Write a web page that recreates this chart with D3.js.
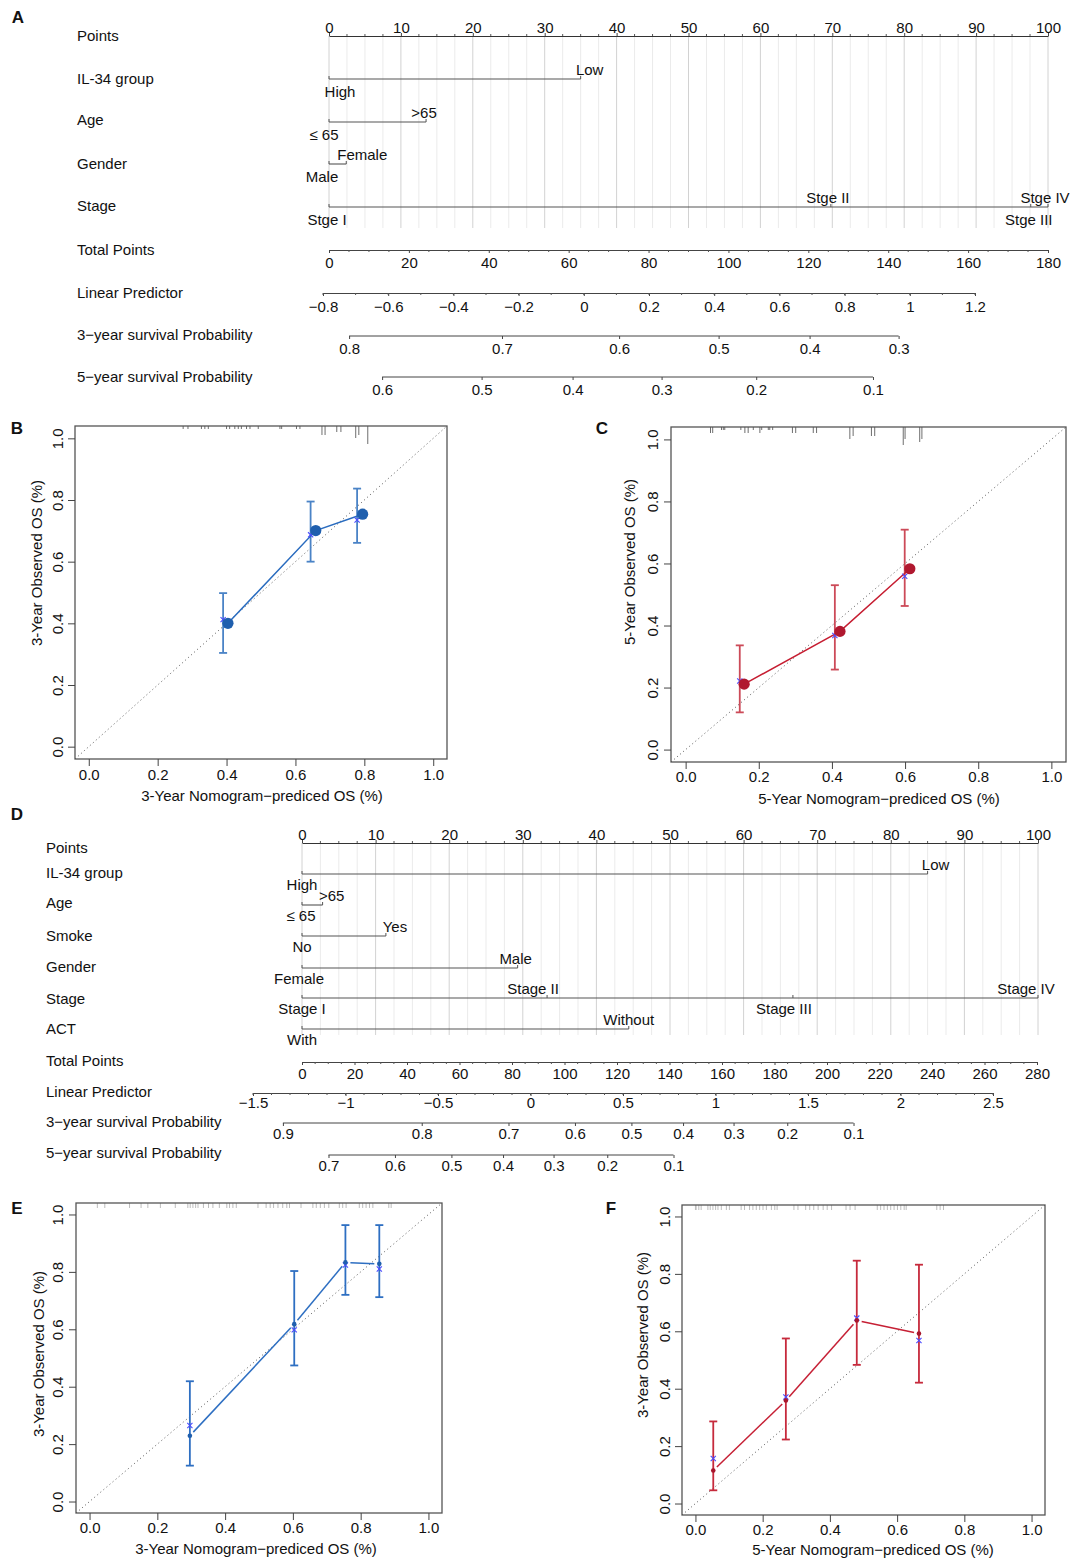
<!DOCTYPE html>
<html><head><meta charset="utf-8">
<script src="https://cdn.jsdelivr.net/npm/d3@7"></script>
<style>
body{margin:0;background:#fff}
svg{display:block}
</style>
</head><body>
<svg id="fig" width="1072" height="1560"></svg>
<script>
// ===================== DATA =====================
// ---- Panel A nomogram ----
const A_pointsTicks = [0,10,20,30,40,50,60,70,80,90,100];
const A_il34Levels = ["High","Low"];          const A_il34Points = [0,35];
const A_ageLevels = ["\u2264 65",">65"];       const A_agePoints = [0,13.5];
const A_genderLevels = ["Male","Female"];      const A_genderPoints = [0,2.4];
const A_stageLevels = ["Stge I","Stge II","Stge III","Stge IV"]; const A_stagePoints = [0,69.8,97.6,100];
const A_totalTicks = [0,20,40,60,80,100,120,140,160,180];
const A_lpTicks = [-0.8,-0.6,-0.4,-0.2,0,0.2,0.4,0.6,0.8,1,1.2];
const A_surv3Ticks = [0.8,0.7,0.6,0.5,0.4,0.3];
const A_surv5Ticks = [0.6,0.5,0.4,0.3,0.2,0.1];
const A_lnCumHaz3 = -0.780;   // log baseline cumulative hazard, 3-year
const A_lnCumHaz5 = -0.053;   // log baseline cumulative hazard, 5-year

// ---- Panel D nomogram ----
const D_pointsTicks = [0,10,20,30,40,50,60,70,80,90,100];
const D_il34Levels = ["High","Low"];            const D_il34Points = [0,85];
const D_ageLevels = ["\u2264 65",">65"];         const D_agePoints = [0,2.8];
const D_smokeLevels = ["No","Yes"];              const D_smokePoints = [0,11.4];
const D_genderLevels = ["Female","Male"];        const D_genderPoints = [0,29.3];
const D_stageLevels = ["Stage I","Stage II","Stage III","Stage IV"]; const D_stagePoints = [0,33.3,66.7,100];
const D_actLevels = ["With","Without"];          const D_actPoints = [0,44.4];
const D_totalTicks = [0,20,40,60,80,100,120,140,160,180,200,220,240,260,280];
const D_lpTicks = [-1.5,-1,-0.5,0,0.5,1,1.5,2,2.5];
const D_surv3Ticks = [0.9,0.8,0.7,0.6,0.5,0.4,0.3,0.2,0.1];
const D_surv5Ticks = [0.7,0.6,0.5,0.4,0.3,0.2,0.1];
const D_lnCumHaz3 = -0.912;
const D_lnCumHaz5 = 0.061;

// ---- Calibration ticks ----
const calTicks = [0,0.2,0.4,0.6,0.8,1.0];

// ---- Panel B (3-year, model 1) ----
const B_pred  = [0.404,0.659,0.795];
const B_obs   = [0.400,0.701,0.754];
const B_barX  = [0.390,0.644,0.779];
const B_lower = [0.304,0.600,0.661];
const B_upper = [0.498,0.795,0.837];
const B_corr  = [0.412,0.687,0.735];
const B_rugValues = [0.274,0.288,0.327,0.337,0.347,0.400,0.409,0.424,0.434,0.443,0.458,0.468,0.492,0.555,0.560,0.603,0.613,0.677,0.686,0.720,0.732,0.775,0.784,0.810];
const B_rugCounts = [1,1,1,1,1,1,1,1,1,1,1,1,1,1,1,1,1,3,3,2,2,4,3,6];

// ---- Panel C (5-year, model 1) ----
const C_pred  = [0.160,0.422,0.613];
const C_obs   = [0.211,0.381,0.583];
const C_barX  = [0.148,0.408,0.599];
const C_lower = [0.120,0.258,0.463];
const C_upper = [0.336,0.530,0.709];
const C_corr  = [0.221,0.368,0.559];
const C_rugValues = [0.068,0.074,0.098,0.103,0.107,0.151,0.162,0.171,0.185,0.203,0.208,0.226,0.230,0.238,0.292,0.301,0.349,0.358,0.449,0.458,0.508,0.517,0.595,0.600,0.640,0.646];
const C_rugCounts = [2,2,1,1,1,1,2,2,1,2,1,1,1,1,2,2,2,2,4,3,3,3,6,4,5,4];

// ---- Panel E (3-year, model 2) ----
const E_pred  = [0.296,0.604,0.755,0.855];
const E_obs   = [0.229,0.618,0.833,0.828];
const E_lower = [0.125,0.474,0.720,0.712];
const E_upper = [0.419,0.803,0.963,0.963];
const E_corr  = [0.265,0.598,0.824,0.810];
const E_rugValues = [0.023,0.045,0.118,0.152,0.172,0.209,0.253,0.290,0.297,0.305,0.313,0.320,0.336,0.351,0.364,0.383,0.405,0.413,0.423,0.433,0.497,0.521,0.533,0.543,0.556,0.570,0.582,0.590,0.624,0.659,0.669,0.681,0.693,0.706,0.737,0.747,0.757,0.796,0.806,0.816,0.826,0.836,0.883,0.890];

// ---- Panel F (5-year, model 2) ----
const F_pred  = [0.053,0.269,0.480,0.665];
const F_obs   = [0.115,0.359,0.638,0.592];
const F_lower = [0.046,0.223,0.483,0.421];
const F_upper = [0.286,0.575,0.846,0.832];
const F_corr  = [0.157,0.371,0.646,0.568];
const F_rugValues = [0.000,0.002,0.010,0.017,0.037,0.044,0.052,0.060,0.067,0.077,0.092,0.101,0.136,0.146,0.161,0.171,0.181,0.191,0.201,0.211,0.226,0.236,0.243,0.293,0.305,0.328,0.340,0.352,0.365,0.380,0.392,0.405,0.448,0.460,0.475,0.541,0.551,0.561,0.571,0.581,0.591,0.601,0.611,0.621,0.627,0.718,0.728,0.738];

// ===================== DRAWING =====================
const FONT = '"Liberation Sans", Arial, Helvetica, sans-serif';
const svg = d3.select("#fig");
svg.append("rect").attr("width",1072).attr("height",1560).attr("fill","#fff");

const fmtNum = v => (v < 0 ? "\u2212" : "") + String(Math.abs(v));

function text(g, x, y, s, opts = {}) {
  const t = g.append("text").attr("x", x).attr("y", y)
    .attr("font-family", FONT).attr("font-size", opts.size || 15)
    .attr("fill", opts.fill || "#111")
    .attr("text-anchor", opts.anchor || "start")
    .attr("dominant-baseline", "central")
    .text(s);
  if (opts.bold) t.attr("font-weight", "bold");
  if (opts.rotate) t.attr("transform", `rotate(${opts.rotate},${x},${y})`);
  return t;
}

function styleAxis(ax, labelDy) {
  ax.attr("font-family", FONT).attr("font-size", 15).attr("color", "#333");
  ax.selectAll(".tick text").attr("y", labelDy).attr("dy", null)
    .attr("dominant-baseline", "central").attr("fill", "#111");
  ax.selectAll(".tick line").attr("stroke", "#444");
}

function nomogram(L) {
  const g = svg.append("g");
  const ps = d3.scaleLinear().domain([0, 100]).range(L.pointsRange);
  // grid lines
  const gridVals = d3.range(0, 100.0001, 2.5);
  g.selectAll("line.grid").data(gridVals).join("line")
    .attr("x1", d => ps(d)).attr("x2", d => ps(d))
    .attr("y1", L.gridY0).attr("y2", L.gridY1)
    .attr("stroke", d => (d % 10 === 0 ? "#d2d2d2" : "#ebebeb")).attr("stroke-width", 1);

  // Points axis
  text(g, L.labelX, L.pointsRowY, "Points");
  const pa = g.append("g").attr("transform", `translate(0,${L.pointsY})`)
    .call(d3.axisTop(ps).tickValues(L.pointsTicks).tickSize(3).tickSizeOuter(0).tickFormat(fmtNum));
  styleAxis(pa, L.pointsLabelY - L.pointsY);
  pa.select(".domain").attr("stroke", "#333");
  g.selectAll("line.pminor").data(gridVals.filter(d => d % 10 !== 0)).join("line")
    .attr("x1", d => ps(d)).attr("x2", d => ps(d))
    .attr("y1", L.pointsY).attr("y2", L.pointsY - 2).attr("stroke", "#555");

  // variables
  L.vars.forEach(v => {
    text(g, L.labelX, v.rowY, v.name);
    const maxP = d3.max(v.points);
    g.append("line").attr("x1", ps(0)).attr("x2", ps(maxP))
      .attr("y1", v.y).attr("y2", v.y).attr("stroke", "#555").attr("stroke-width", 1.1);
    g.selectAll(null).data(v.points).join("line")
      .attr("x1", d => ps(d)).attr("x2", d => ps(d))
      .attr("y1", v.y).attr("y2", v.y - 3).attr("stroke", "#555");
    v.levels.forEach((lev, i) => {
      const above = i % 2 === 1;
      text(g, ps(v.points[i]) + (v.nudge[i] || 0), v.y + (above ? L.aboveDy : L.belowDy), lev, { anchor: "middle" });
    });
  });

  // Total points
  const ts = d3.scaleLinear().domain([0, d3.max(L.totalTicks)]).range(L.totalRange);
  text(g, L.labelX, L.totalRowY, "Total Points");
  const ta = g.append("g").attr("transform", `translate(0,${L.totalY})`)
    .call(d3.axisBottom(ts).tickValues(L.totalTicks).tickSize(3).tickSizeOuter(0).tickFormat(fmtNum));
  styleAxis(ta, L.totalLabelY - L.totalY);
  ta.select(".domain").attr("stroke", "#444");
  g.selectAll(null).data(d3.range(0, d3.max(L.totalTicks) + 0.001, 5).filter(d => d % 20 !== 0)).join("line")
    .attr("x1", d => ts(d)).attr("x2", d => ts(d))
    .attr("y1", L.totalY).attr("y2", L.totalY + 2).attr("stroke", "#555");

  // Linear predictor
  const ls = d3.scaleLinear().domain([L.lpTicks[0], L.lpTicks[L.lpTicks.length - 1]]).range(L.lpRange);
  text(g, L.labelX, L.lpRowY, "Linear Predictor");
  const la = g.append("g").attr("transform", `translate(0,${L.lpY})`)
    .call(d3.axisBottom(ls).tickValues(L.lpTicks).tickSize(3).tickSizeOuter(0).tickFormat(fmtNum));
  styleAxis(la, L.lpLabelY - L.lpY);
  la.select(".domain").attr("stroke", "#444");
  const lpMinor = d3.range(Math.round(L.lpTicks[0] * 10), Math.round(L.lpTicks[L.lpTicks.length - 1] * 10) + 1).map(d => d / 10);
  g.selectAll(null).data(lpMinor).join("line")
    .attr("x1", d => ls(d)).attr("x2", d => ls(d))
    .attr("y1", L.lpY).attr("y2", L.lpY + 2).attr("stroke", "#555");

  // survival axes (Cox: S(t) = S0(t)^exp(LP))
  [[L.s3, "3\u2212year survival Probability"], [L.s5, "5\u2212year survival Probability"]].forEach(([s, name]) => {
    text(g, L.labelX, s.rowY, name);
    const lpOf = p => Math.log(-Math.log(p)) - s.lnH;
    const lpVals = s.ticks.map(lpOf);
    const sa = g.append("g").attr("transform", `translate(0,${s.y})`)
      .call(d3.axisBottom(ls).tickValues(lpVals).tickSize(3).tickSizeOuter(0)
        .tickFormat((d, i) => fmtNum(s.ticks[i])));
    styleAxis(sa, s.labelY - s.y);
    sa.select(".domain").remove();
    g.append("line").attr("x1", ls(d3.min(lpVals))).attr("x2", ls(d3.max(lpVals)))
      .attr("y1", s.y).attr("y2", s.y).attr("stroke", "#444");
  });
}

// Panel A
nomogram({
  labelX: 77, pointsRange: [329, 1048], pointsTicks: A_pointsTicks,
  pointsY: 36, pointsLabelY: 27, pointsRowY: 35, gridY0: 36, gridY1: 228,
  aboveDy: -10, belowDy: 12,
  vars: [
    { name: "IL-34 group", levels: A_il34Levels, points: A_il34Points, y: 79, rowY: 78, nudge: [11, 9] },
    { name: "Age", levels: A_ageLevels, points: A_agePoints, y: 122, rowY: 119, nudge: [-5, -2] },
    { name: "Gender", levels: A_genderLevels, points: A_genderPoints, y: 164, rowY: 163, nudge: [-7, 16] },
    { name: "Stage", levels: A_stageLevels, points: A_stagePoints, y: 207, rowY: 205, nudge: [-2, -3, -2, -3] }
  ],
  totalTicks: A_totalTicks, totalRange: [329, 1048], totalY: 250, totalLabelY: 262, totalRowY: 249,
  lpTicks: A_lpTicks, lpRange: [323, 975], lpY: 293, lpLabelY: 306, lpRowY: 292,
  s3: { ticks: A_surv3Ticks, lnH: A_lnCumHaz3, y: 336, labelY: 348, rowY: 334 },
  s5: { ticks: A_surv5Ticks, lnH: A_lnCumHaz5, y: 377, labelY: 389, rowY: 376 }
});

// Panel D
nomogram({
  labelX: 46, pointsRange: [302, 1038], pointsTicks: D_pointsTicks,
  pointsY: 843, pointsLabelY: 834, pointsRowY: 847, gridY0: 843, gridY1: 1035,
  aboveDy: -10, belowDy: 10,
  vars: [
    { name: "IL-34 group", levels: D_il34Levels, points: D_il34Points, y: 874, rowY: 872, nudge: [0, 8] },
    { name: "Age", levels: D_ageLevels, points: D_agePoints, y: 905, rowY: 902, nudge: [-1, 9] },
    { name: "Smoke", levels: D_smokeLevels, points: D_smokePoints, y: 936, rowY: 935, nudge: [0, 9] },
    { name: "Gender", levels: D_genderLevels, points: D_genderPoints, y: 968, rowY: 966, nudge: [-3, -2] },
    { name: "Stage", levels: D_stageLevels, points: D_stagePoints, y: 998, rowY: 998, nudge: [0, -14, -9, -12] },
    { name: "ACT", levels: D_actLevels, points: D_actPoints, y: 1029, rowY: 1028, nudge: [0, 0] }
  ],
  totalTicks: D_totalTicks, totalRange: [302, 1037], totalY: 1062, totalLabelY: 1073, totalRowY: 1060,
  lpTicks: D_lpTicks, lpRange: [253, 993], lpY: 1093, lpLabelY: 1102, lpRowY: 1091,
  s3: { ticks: D_surv3Ticks, lnH: D_lnCumHaz3, y: 1123, labelY: 1133, rowY: 1121 },
  s5: { ticks: D_surv5Ticks, lnH: D_lnCumHaz5, y: 1155, labelY: 1165, rowY: 1152 }
});

// ---------- calibration plots ----------
let clipN = 0;
function calibration(C) {
  const g = svg.append("g");
  const x = d3.scaleLinear().domain([-0.04, 1.04]).range([C.x0, C.x1]);
  const y = d3.scaleLinear().domain([-0.04, 1.04]).range([C.y1, C.y0]);
  const cid = "clip" + (clipN++);
  g.append("clipPath").attr("id", cid).append("rect")
    .attr("x", C.x0).attr("y", C.y0).attr("width", C.x1 - C.x0).attr("height", C.y1 - C.y0);
  const inner = g.append("g").attr("clip-path", `url(#${cid})`);

  // ideal line
  inner.append("line").attr("x1", x(-0.04)).attr("y1", y(-0.04)).attr("x2", x(1.04)).attr("y2", y(1.04))
    .attr("stroke", "#555").attr("stroke-width", 1).attr("stroke-dasharray", "1,3");

  // rug of predicted values
  inner.selectAll(null).data(C.rug).join("line")
    .attr("x1", (d, i) => x(d)).attr("x2", (d, i) => x(d))
    .attr("y1", C.y0).attr("y2", (d, i) => C.y0 + (C.rugCounts ? C.rugCounts[i] * 3 : 5))
    .attr("stroke", C.rugColor).attr("stroke-width", 1);

  // error bars
  const cap = 4;
  C.barX.forEach((bx, i) => {
    const X = x(bx);
    inner.append("line").attr("x1", X).attr("x2", X).attr("y1", y(C.lower[i])).attr("y2", y(C.upper[i]))
      .attr("stroke", C.barColor).attr("stroke-width", 1.8);
    [C.lower[i], C.upper[i]].forEach(v => {
      inner.append("line").attr("x1", X - cap).attr("x2", X + cap).attr("y1", y(v)).attr("y2", y(v))
        .attr("stroke", C.barColor).attr("stroke-width", 1.8);
    });
  });

  // connecting line
  const pts = C.pred.map((p, i) => [x(p), y(C.obs[i])]);
  if (C.big) {
    inner.append("path").attr("d", d3.line()(pts)).attr("fill", "none")
      .attr("stroke", C.lineColor).attr("stroke-width", 1.5);
  } else {
    const gap = 5;
    for (let i = 0; i < pts.length - 1; i++) {
      const [ax, ay] = pts[i], [bx, by] = pts[i + 1];
      const len = Math.hypot(bx - ax, by - ay), ux = (bx - ax) / len, uy = (by - ay) / len;
      inner.append("line").attr("x1", ax + ux * gap).attr("y1", ay + uy * gap)
        .attr("x2", bx - ux * gap).attr("y2", by - uy * gap)
        .attr("stroke", C.lineColor).attr("stroke-width", 1.5);
    }
  }

  // bias-corrected (x marks)
  const s = 2.6;
  C.barX.forEach((bx, i) => {
    const X = x(bx), Y = y(C.corr[i]);
    inner.append("path").attr("d", `M${X - s},${Y - s}L${X + s},${Y + s}M${X - s},${Y + s}L${X + s},${Y - s}`)
      .attr("stroke", "#4b4bff").attr("stroke-width", 1.1).attr("fill", "none");
  });

  // points
  inner.selectAll(null).data(pts).join("circle")
    .attr("cx", d => d[0]).attr("cy", d => d[1]).attr("r", C.big ? 5.6 : 2.3)
    .attr("fill", C.pointColor);

  // box
  g.append("rect").attr("x", C.x0).attr("y", C.y0).attr("width", C.x1 - C.x0).attr("height", C.y1 - C.y0)
    .attr("fill", "none").attr("stroke", "#555").attr("stroke-width", 1.3);

  // axes
  const xa = g.append("g").attr("transform", `translate(0,${C.y1})`)
    .call(d3.axisBottom(x).tickValues(calTicks).tickSize(7).tickSizeOuter(0).tickFormat(d3.format(".1f")));
  xa.select(".domain").remove();
  styleAxis(xa, C.xLabelY - C.y1);
  const ya = g.append("g").attr("transform", `translate(${C.x0},0)`)
    .call(d3.axisLeft(y).tickValues(calTicks).tickSize(7).tickSizeOuter(0).tickFormat(d3.format(".1f")));
  ya.select(".domain").remove();
  styleAxis(ya, 0);
  ya.selectAll(".tick text").attr("x", 0).attr("y", 0).attr("text-anchor", "middle")
    .attr("transform", `translate(${C.yLabelX - C.x0},0) rotate(-90)`);

  text(g, C.xTitle[0], C.xTitle[1], C.xTitleText, { anchor: "middle" });
  text(g, C.yTitle[0], C.yTitle[1], C.yTitleText, { anchor: "middle", rotate: -90 });
}

const BLUE = { point: "#1f5fae", line: "#2a6cbf", bar: "#4a83c6" };
const RED = { point: "#b0182f", line: "#c61d31", bar: "#cc4a58" };

calibration({
  x0: 75, x1: 447, y0: 426, y1: 759, big: true,
  pred: B_pred, obs: B_obs, barX: B_barX, lower: B_lower, upper: B_upper, corr: B_corr,
  rug: B_rugValues, rugCounts: B_rugCounts, rugColor: "#6e6e6e",
  pointColor: BLUE.point, lineColor: BLUE.line, barColor: BLUE.bar,
  xLabelY: 774, yLabelX: 57, xTitle: [262, 795], yTitle: [36, 563],
  xTitleText: "3-Year Nomogram\u2212prediced OS (%)", yTitleText: "3-Year Observed OS (%)"
});
calibration({
  x0: 671, x1: 1066, y0: 427, y1: 762, big: true,
  pred: C_pred, obs: C_obs, barX: C_barX, lower: C_lower, upper: C_upper, corr: C_corr,
  rug: C_rugValues, rugCounts: C_rugCounts, rugColor: "#6e6e6e",
  pointColor: RED.point, lineColor: RED.line, barColor: RED.bar,
  xLabelY: 776, yLabelX: 652, xTitle: [879, 798], yTitle: [629, 562],
  xTitleText: "5-Year Nomogram\u2212prediced OS (%)", yTitleText: "5-Year Observed OS (%)"
});
calibration({
  x0: 76, x1: 442, y0: 1203, y1: 1513, big: false,
  pred: E_pred, obs: E_obs, barX: E_pred, lower: E_lower, upper: E_upper, corr: E_corr,
  rug: E_rugValues, rugColor: "#bdbdbd",
  pointColor: "#1f5fae", lineColor: "#2e6fc2", barColor: "#2e6fc2",
  xLabelY: 1527, yLabelX: 57, xTitle: [256, 1548], yTitle: [38, 1354],
  xTitleText: "3-Year Nomogram\u2212prediced OS (%)", yTitleText: "3-Year Observed OS (%)"
});
calibration({
  x0: 682, x1: 1045, y0: 1205, y1: 1515, big: false,
  pred: F_pred, obs: F_obs, barX: F_pred, lower: F_lower, upper: F_upper, corr: F_corr,
  rug: F_rugValues, rugColor: "#bdbdbd",
  pointColor: "#a8162c", lineColor: "#c62035", barColor: "#c62a3c",
  xLabelY: 1529, yLabelX: 664, xTitle: [873, 1549], yTitle: [642, 1335],
  xTitleText: "5-Year Nomogram\u2212prediced OS (%)", yTitleText: "3-Year Observed OS (%)"
});

// panel letters
[["A", 18, 17], ["B", 17, 428], ["C", 602, 428], ["D", 17, 814], ["E", 17, 1208], ["F", 611, 1208]]
  .forEach(([s, px, py]) => text(svg, px, py, s, { anchor: "middle", bold: true, size: 17 }));
</script>
</body></html>
